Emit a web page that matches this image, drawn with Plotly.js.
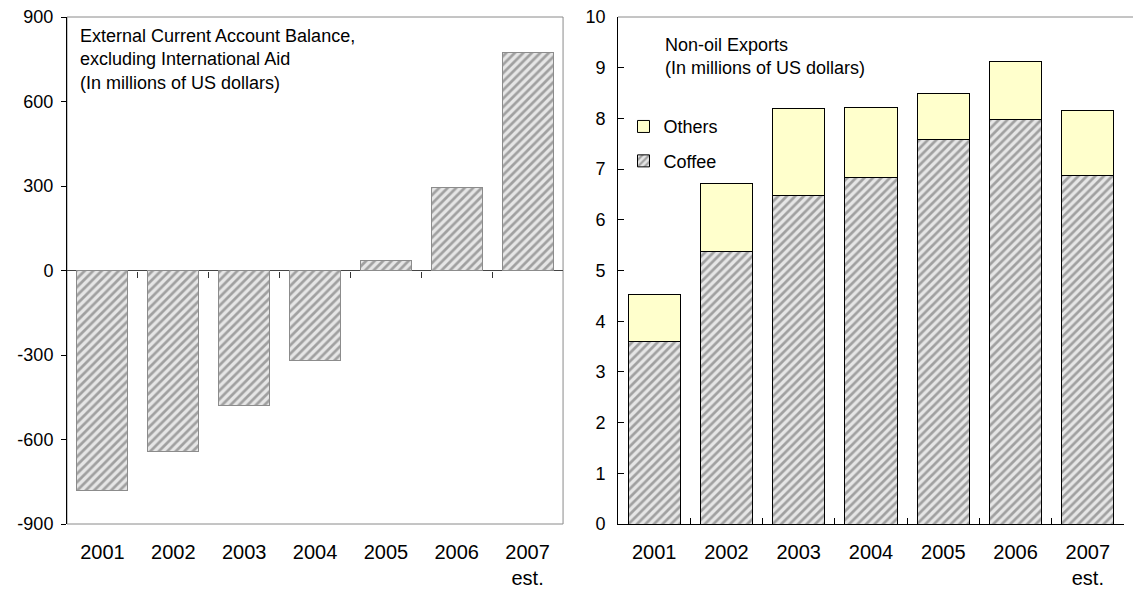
<!DOCTYPE html>
<html>
<head>
<meta charset="utf-8">
<script src="https://cdn.plot.ly/plotly-3.0.1.min.js"></script>
<style>html,body{margin:0;padding:0;background:#fff;}#chart{width:1133px;height:594px;}</style>
</head>
<body>
<div id="chart"></div>
<script>
var years = ['2001', '2002', '2003', '2004', '2005', '2006', '2007<br>est.'];
var currentAccount = [-780, -642, -480, -321, 35, 296, 773];
var coffee = [3.59, 5.38, 6.47, 6.84, 7.59, 7.97, 6.88];
var others = [0.93, 1.33, 1.72, 1.37, 0.91, 1.16, 1.27];
var leftTicks = [-900, -600, -300, 0, 300, 600, 900];
var leftTickText = ['-900', '-600', '-300', '0', '300', '600', '900'];
var rightTicks = [0, 1, 2, 3, 4, 5, 6, 7, 8, 9, 10];
var boundaryTicks = [0.5, 1.5, 2.5, 3.5, 4.5, 5.5];

var FONT = 'Liberation Sans, Arial, sans-serif';
var FS = 18;
var hatch = {shape: '/', fgcolor: '#a0a0a0', bgcolor: '#e6e6e6', size: 6, solidity: 0.45};

var traces = [
  {type: 'bar', x: years, y: currentAccount, xaxis: 'x', yaxis: 'y', showlegend: false,
   marker: {color: '#e6e6e6', pattern: hatch, line: {color: '#8c8c8c', width: 1}}},
  {type: 'scatter', x: [0], y: [0], xaxis: 'x3', yaxis: 'y3', mode: 'markers',
   marker: {opacity: 0}, showlegend: false, hoverinfo: 'skip'},
  {type: 'bar', name: 'Coffee', x: years, y: coffee, xaxis: 'x2', yaxis: 'y2', legendgroup: 'c', legendrank: 2,
   marker: {color: '#e6e6e6', pattern: hatch, line: {color: '#000', width: 1}}},
  {type: 'bar', name: 'Others', x: years, y: others, xaxis: 'x2', yaxis: 'y2', legendgroup: 'o', legendrank: 1,
   marker: {color: '#ffffcc', line: {color: '#000', width: 1}}}
];

var leftDom = [0, 0.4693];
var rightDom = [0.5213, 1];

var layout = {
  width: 1133, height: 594,
  margin: {l: 67, r: 9, t: 17, b: 70},
  paper_bgcolor: '#fff', plot_bgcolor: 'rgba(0,0,0,0)',
  font: {family: FONT, size: FS, color: '#000'},
  barmode: 'stack',
  bargap: 0.28,
  xaxis: {domain: leftDom, anchor: 'y', type: 'category', categoryarray: years, range: [-0.5, 6.5],
          showline: false, ticks: '', showgrid: false, zeroline: false, ticklabelstandoff: 14,
          tickfont: {size: 20}},
  yaxis: {domain: [0, 1], anchor: 'x', range: [-900, 900], tickmode: 'array', tickvals: leftTicks,
          ticktext: leftTickText,
          ticks: 'outside', ticklen: 5, tickcolor: '#000', showline: true, linecolor: '#000', linewidth: 1,
          showgrid: false, zeroline: true, zerolinecolor: '#444', zerolinewidth: 1, ticklabelstandoff: 4},
  xaxis3: {domain: leftDom, anchor: 'y3', type: 'linear', range: [-0.5, 6.5],
           tickmode: 'array', tickvals: boundaryTicks, showticklabels: false, ticks: 'outside',
           ticklen: 6, tickcolor: '#333', showline: false, showgrid: false, zeroline: false},
  yaxis3: {domain: [0.5, 1], anchor: 'x3', range: [0, 1], visible: false},
  xaxis2: {domain: rightDom, anchor: 'y2', type: 'category', categoryarray: years, range: [-0.5, 6.5],
           tickson: 'boundaries', ticks: 'inside', ticklen: 6, tickcolor: '#000',
           showline: true, linecolor: '#000', linewidth: 1, showgrid: false, zeroline: false,
           ticklabelstandoff: 10, tickfont: {size: 20}},
  yaxis2: {domain: [0, 1], anchor: 'x2', range: [0, 10], tickmode: 'array', tickvals: rightTicks,
           ticks: 'inside', ticklen: 6, tickcolor: '#000', showline: true, linecolor: '#000', linewidth: 1,
           showgrid: false, zeroline: false, ticklabelstandoff: 8},
  legend: {x: 0.5265, xanchor: 'left', y: 0.82, yanchor: 'top', bgcolor: 'rgba(0,0,0,0)',
           font: {size: FS}, traceorder: 'grouped', tracegroupgap: 8, itemwidth: 30},
  shapes: [
    {type: 'rect', xref: 'x domain', yref: 'y domain', x0: 0, x1: 1, y0: 0, y1: 1,
     line: {color: '#8a8a8a', width: 1}, layer: 'below'},
    {type: 'line', xref: 'paper', yref: 'paper', x0: rightDom[0], x1: 1.01, y0: 1, y1: 1,
     line: {color: '#8a8a8a', width: 1}}
  ],
  annotations: [
    {xref: 'paper', yref: 'paper', x: 0.0105, y: 0.986, xanchor: 'left', yanchor: 'top', align: 'left',
     showarrow: false, font: {size: FS},
     text: 'External Current Account Balance,<br>excluding International Aid<br>(In millions of US dollars)'},
    {xref: 'paper', yref: 'paper', x: 0.5638, y: 0.968, xanchor: 'left', yanchor: 'top', align: 'left',
     showarrow: false, font: {size: FS},
     text: 'Non-oil Exports<br>(In millions of US dollars)'}
  ]
};

Plotly.newPlot('chart', traces, layout, {displayModeBar: false, staticPlot: true});
</script>
</body>
</html>
